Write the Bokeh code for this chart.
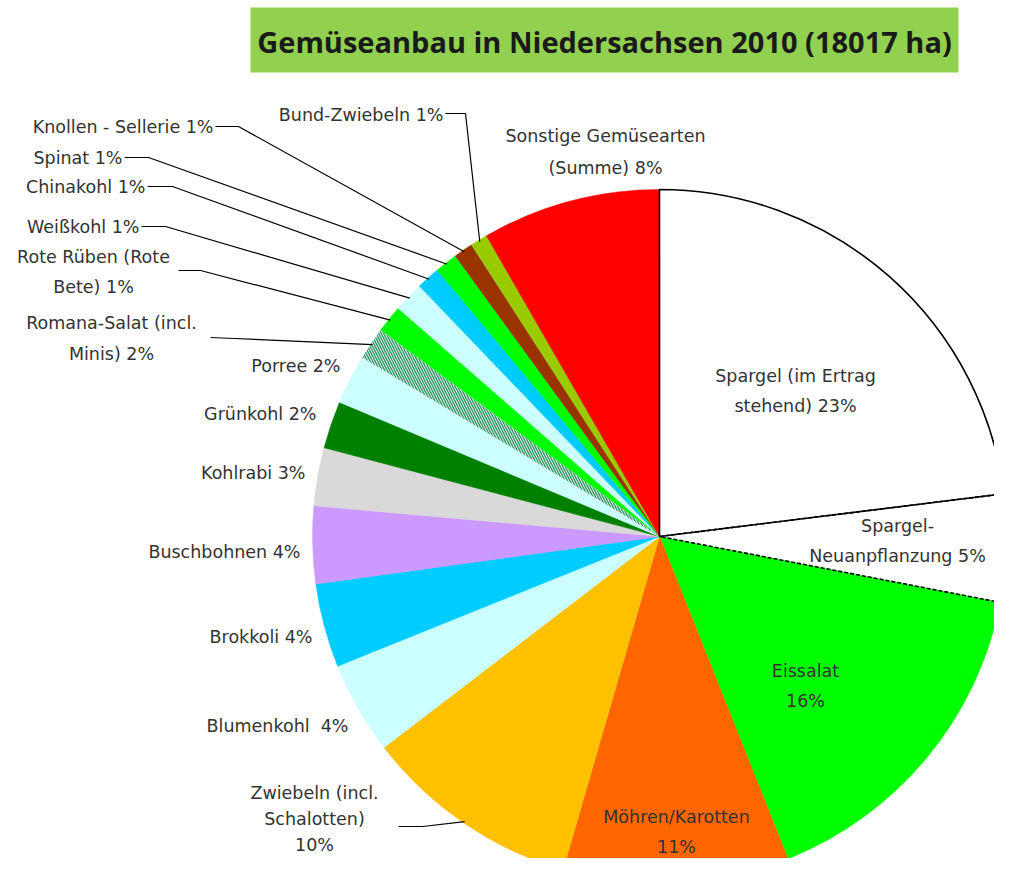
import numpy as np
from bokeh.plotting import figure
from bokeh.models import Range1d, ColumnDataSource
from bokeh.embed import file_html
from bokeh.resources import INLINE
from bokeh.core.properties import value

# ---------------- data ----------------
title_text = "Gemüseanbau in Niedersachsen 2010 (18017 ha)"

categories = [
    "Spargel (im Ertrag stehend)", "Spargel-Neuanpflanzung", "Eissalat",
    "Möhren/Karotten", "Zwiebeln (incl. Schalotten)", "Blumenkohl",
    "Brokkoli", "Buschbohnen", "Kohlrabi", "Grünkohl", "Porree",
    "Romana-Salat (incl. Minis)", "Rote Rüben (Rote Bete)", "Weißkohl",
    "Chinakohl", "Spinat", "Knollen - Sellerie", "Bund-Zwiebeln",
    "Sonstige Gemüsearten (Summe)",
]
shares = [23.0, 5.0, 15.9, 10.5, 10.1, 4.3, 3.9, 3.6, 2.7, 2.2, 2.3,
          1.5, 1.3, 1.4, 1.1, 1.05, 0.9, 0.8, 8.3]
pct_labels = ["23%", "5%", "16%", "11%", "10%", "4%", "4%", "4%", "3%",
              "2%", "2%", "2%", "1%", "1%", "1%", "1%", "1%", "1%", "8%"]
label_lines = [
    ["Spargel (im Ertrag", "stehend) 23%"],
    ["Spargel-", "Neuanpflanzung 5%"],
    ["Eissalat", "16%"],
    ["Möhren/Karotten", "11%"],
    ["Zwiebeln (incl.", "Schalotten)", "10%"],
    ["Blumenkohl\u00a0 4%"],
    ["Brokkoli 4%"],
    ["Buschbohnen 4%"],
    ["Kohlrabi 3%"],
    ["Grünkohl 2%"],
    ["Porree 2%"],
    ["Romana-Salat (incl.", "Minis) 2%"],
    ["Rote Rüben (Rote", "Bete) 1%"],
    ["Weißkohl 1%"],
    ["Chinakohl 1%"],
    ["Spinat 1%"],
    ["Knollen - Sellerie 1%"],
    ["Bund-Zwiebeln 1%"],
    ["Sonstige Gemüsearten", "(Summe) 8%"],
]
colors = ["#FFFFFF", "#FFFFFF", "#00FF00", "#FF6600", "#FFC000", "#CCFFFF",
          "#00CCFF", "#CC99FF", "#D9D9D9", "#008000", "#CCFFFF", "#FFFFFF",
          "#00FF00", "#CCFFFF", "#00CCFF", "#00FF00", "#993300", "#99CC00",
          "#FF0000"]

# ---------------- layout (reference pixel coords, y downward) ----------------
H = 874
CX, CY, R = 659, 536, 347
# label anchor: x, y of first line, alignment, line spacing
anchors = [
    (795, 375, "center", 30), (897, 525, "center", 30), (805, 670, "center", 30),
    (676, 816, "center", 30), (314, 792, "center", 26), (348, 725, "right", 30),
    (312, 636, "right", 30), (300, 551, "right", 30), (305, 472, "right", 30),
    (316, 413, "right", 30), (340, 365, "right", 30), (111, 322, "center", 31),
    (93, 256, "center", 30), (139, 226, "right", 30), (145, 186, "right", 30),
    (122, 157, "right", 30), (213, 126, "right", 30), (443, 114, "right", 30),
    (605, 135, "center", 32),
]
# leader lines: index -> (start point, elbow point)
leaders = {
    4: ((398, 826), (422, 826)),
    11: ((210, 337), (234, 338)),
    12: ((178, 270), (200, 270)),
    13: ((141, 226), (165, 226)),
    14: ((147, 186), (172, 186)),
    15: ((124, 157), (148, 157)),
    16: ((215, 126), (238, 126)),
    17: ((445, 113), (465, 113)),
}

vals = np.array(shares, dtype=float)
frac = vals / vals.sum()
cum = np.concatenate([[0.0], np.cumsum(frac)])
start = np.pi / 2 - 2 * np.pi * cum[:-1]
end = np.pi / 2 - 2 * np.pi * cum[1:]
mid = (start + end) / 2

p = figure(width=994, height=858, x_range=Range1d(0, 994), y_range=Range1d(16, 874),
           output_backend="svg", toolbar_location=None, min_border=0,
           x_axis_type=None, y_axis_type=None)
p.grid.visible = False
p.outline_line_color = None
p.background_fill_color = "white"

cy = H - CY

# title box
p.quad(left=[250], right=[958], top=[H - 7], bottom=[H - 72],
       fill_color="#92D050", line_color=None)
p.text(x=[604], y=[H - 41], text=[title_text], text_align="center",
       text_baseline="middle", text_font=value("Open Sans"),
       text_font_style="bold", text_font_size="29px", text_color="#1a1a1a")

idx_plain = [i for i in range(len(vals)) if i != 11]
src = ColumnDataSource(dict(
    x=[CX] * len(idx_plain), y=[cy] * len(idx_plain),
    s=[start[i] for i in idx_plain], e=[end[i] for i in idx_plain],
    c=[colors[i] for i in idx_plain]))
p.wedge(x="x", y="y", radius=R, start_angle="s", end_angle="e",
        direction="clock", fill_color="c", line_color="c", line_width=0.5,
        source=src)

# hatched Romana slice
p.wedge(x=[CX], y=[cy], radius=R, start_angle=[start[11]], end_angle=[end[11]],
        direction="clock", fill_color=colors[11], line_color=None,
        hatch_pattern="\\", hatch_color="#339966", hatch_scale=5,
        hatch_weight=1.5)

# outlines of the asparagus slices
p.wedge(x=[CX], y=[cy], radius=R, start_angle=[start[0]], end_angle=[end[0]],
        direction="clock", fill_color=None, line_color="black", line_width=1.6)
p.wedge(x=[CX], y=[cy], radius=R, start_angle=[start[1]], end_angle=[end[1]],
        direction="clock", fill_color=None, line_color="black", line_width=1.6,
        line_dash="4 2")

# leader lines
lx, ly = [], []
for i, (a, b) in leaders.items():
    ex = CX + R * 0.995 * np.cos(mid[i])
    ey = cy + R * 0.995 * np.sin(mid[i])
    lx.append([a[0], b[0], ex])
    ly.append([H - a[1], H - b[1], ey])
p.multi_line(xs=lx, ys=ly, line_color="black", line_width=1.2)

# labels
for align in ("center", "right"):
    tx, ty, tt = [], [], []
    for i, lines in enumerate(label_lines):
        ax, ay, al, lh = anchors[i]
        if al != align:
            continue
        for k, t in enumerate(lines):
            tx.append(ax)
            ty.append(H - (ay + k * lh))
            tt.append(t)
    p.text(x=tx, y=ty, text=tt, text_align=align, text_baseline="middle",
           text_font=value("DejaVu Sans"), text_font_size="17.5px",
           text_color="#333333")

open("out.html", "w").write(file_html(p, INLINE))
